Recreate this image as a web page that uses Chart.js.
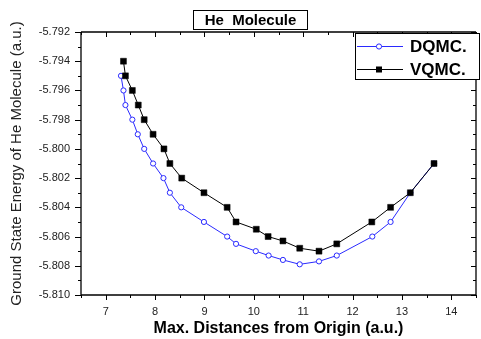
<!DOCTYPE html>
<html>
<head>
<meta charset="utf-8">
<script src="https://cdn.jsdelivr.net/npm/chart.js@4/dist/chart.umd.min.js"></script>
<style>
  html, body { margin: 0; padding: 0; background: #ffffff; }
  canvas { display: block; }
</style>
</head>
<body>
<canvas id="c" width="481" height="339"></canvas>
<script>
// ---- Data ----
const dqmcX = [7.31, 7.36, 7.40, 7.54, 7.65, 7.78, 7.96, 8.17, 8.30, 8.53, 8.99, 9.46, 9.64, 10.04, 10.30, 10.59, 10.93, 11.32, 11.68, 12.40, 12.77, 13.17, 13.65];
const dqmcY = [-5.795, -5.796, -5.797, -5.798, -5.799, -5.800, -5.801, -5.802, -5.803, -5.804, -5.805, -5.806, -5.8065, -5.807, -5.8073, -5.8076, -5.8079, -5.8077, -5.8073, -5.806, -5.805, -5.803, -5.801];
const vqmcX = [7.36, 7.40, 7.54, 7.66, 7.78, 7.96, 8.18, 8.30, 8.54, 8.99, 9.46, 9.64, 10.05, 10.29, 10.59, 10.93, 11.32, 11.68, 12.39, 12.77, 13.17, 13.65];
const vqmcY = [-5.794, -5.795, -5.796, -5.797, -5.798, -5.799, -5.800, -5.801, -5.802, -5.803, -5.804, -5.805, -5.8055, -5.806, -5.8063, -5.8068, -5.807, -5.8065, -5.805, -5.804, -5.803, -5.801];
const xTickValues = [7, 8, 9, 10, 11, 12, 13, 14];
const xMinorValues = [6.5, 7.5, 8.5, 9.5, 10.5, 11.5, 12.5, 13.5, 14.5];
const yTickValues = [-5.810, -5.808, -5.806, -5.804, -5.802, -5.800, -5.798, -5.796, -5.794, -5.792];
const yMinorValues = [-5.809, -5.807, -5.805, -5.803, -5.801, -5.799, -5.797, -5.795, -5.793];
const seriesNames = ['DQMC.', 'VQMC.'];
const chartTitle = 'He  Molecule';
const xTitle = 'Max. Distances from Origin (a.u.)';
const yTitle = 'Ground State Energy of He Molecule (a.u.)';

const BLUE = '#2a2aff';
const FONT = "'Liberation Sans', Arial, sans-serif";

const toPts = (xs, ys) => xs.map((x, i) => ({ x: x, y: ys[i] }));

const framePlugin = {
  id: 'frame',
  afterDraw(chart) {
    const { ctx, chartArea: a, scales } = chart;
    const xs = scales.x, ys = scales.y;
    ctx.save();
    ctx.strokeStyle = '#000';
    ctx.lineWidth = 1.3;
    ctx.beginPath();
    ctx.moveTo(a.left, a.top); ctx.lineTo(a.right, a.top);
    ctx.moveTo(a.left, a.bottom); ctx.lineTo(a.right, a.bottom);
    ctx.moveTo(a.left, a.top); ctx.lineTo(a.left, a.bottom);
    ctx.moveTo(a.right, a.top); ctx.lineTo(a.right, a.bottom);
    ctx.stroke();
    ctx.lineWidth = 1;
    ctx.beginPath();
    xTickValues.forEach(v => {
      const px = Math.round(xs.getPixelForValue(v)) + 0.5;
      ctx.moveTo(px, a.bottom); ctx.lineTo(px, a.bottom + 5);
      ctx.moveTo(px, a.top); ctx.lineTo(px, a.top + 5);
    });
    xMinorValues.forEach(v => {
      const px = Math.round(xs.getPixelForValue(v)) + 0.5;
      ctx.moveTo(px, a.bottom); ctx.lineTo(px, a.bottom + 3);
      ctx.moveTo(px, a.top); ctx.lineTo(px, a.top + 3);
    });
    yTickValues.forEach(v => {
      const py = Math.round(ys.getPixelForValue(v)) + 0.5;
      ctx.moveTo(a.left, py); ctx.lineTo(a.left - 6, py);
      ctx.moveTo(a.right, py); ctx.lineTo(a.right - 5, py);
    });
    yMinorValues.forEach(v => {
      const py = Math.round(ys.getPixelForValue(v)) + 0.5;
      ctx.moveTo(a.left, py); ctx.lineTo(a.left - 3, py);
      ctx.moveTo(a.right, py); ctx.lineTo(a.right - 3, py);
    });
    ctx.stroke();

    // Title box
    ctx.fillStyle = '#fff';
    ctx.fillRect(193.5, 10.5, 114, 19);
    ctx.strokeRect(193.5, 10.5, 114, 19);
    ctx.fillStyle = '#000';
    ctx.font = "bold 15px " + FONT;
    ctx.textAlign = 'center';
    ctx.textBaseline = 'middle';
    ctx.fillText(chartTitle, 250.5, 20.5);

    // Legend box
    const lx = 355.5, ly = 33.5, lw = 124, lh = 46;
    ctx.fillStyle = '#fff';
    ctx.fillRect(lx, ly, lw, lh);
    ctx.strokeStyle = '#000';
    ctx.lineWidth = 1;
    ctx.strokeRect(lx, ly, lw, lh);
    const rows = [
      { y: 46, color: BLUE, style: 'circle', name: seriesNames[0] },
      { y: 69, color: '#000', style: 'rect', name: seriesNames[1] }
    ];
    rows.forEach(r => {
      ctx.strokeStyle = r.color;
      ctx.lineWidth = 1;
      ctx.beginPath();
      ctx.moveTo(357, r.y + 0.5); ctx.lineTo(403, r.y + 0.5);
      ctx.stroke();
      if (r.style === 'circle') {
        ctx.fillStyle = '#fff';
        ctx.beginPath();
        ctx.arc(379, r.y + 0.5, 2.6, 0, Math.PI * 2);
        ctx.fill();
        ctx.stroke();
      } else {
        ctx.fillStyle = '#000';
        ctx.fillRect(376, r.y - 2.5, 6, 6);
      }
      ctx.fillStyle = '#000';
      ctx.font = "bold 17px " + FONT;
      ctx.textAlign = 'left';
      ctx.textBaseline = 'middle';
      ctx.fillText(r.name, 410, r.y + 1);
    });
    ctx.restore();
  }
};

new Chart(document.getElementById('c'), {
  type: 'scatter',
  data: {
    datasets: [
      {
        label: seriesNames[0],
        data: toPts(dqmcX, dqmcY),
        showLine: true,
        borderColor: BLUE,
        borderWidth: 1,
        pointStyle: 'circle',
        pointRadius: 2.6,
        pointBorderWidth: 1,
        pointBackgroundColor: '#fff',
        pointBorderColor: BLUE,
        order: 1
      },
      {
        label: seriesNames[1],
        data: toPts(vqmcX, vqmcY),
        showLine: true,
        borderColor: '#000',
        borderWidth: 1,
        pointStyle: 'rect',
        pointRadius: 4.2,
        pointBorderWidth: 0.5,
        pointBackgroundColor: '#000',
        pointBorderColor: '#000',
        order: 0
      }
    ]
  },
  options: {
    responsive: false,
    animation: false,
    layout: { padding: { top: 32, left: 0, right: 0, bottom: 0 } },
    plugins: {
      legend: { display: false },
      title: { display: false },
      tooltip: { enabled: false }
    },
    scales: {
      x: {
        type: 'linear',
        min: 6.5,
        max: 14.5,
        grid: { display: false, drawTicks: false },
        border: { display: false },
        afterBuildTicks: s => { s.ticks = xTickValues.map(v => ({ value: v })); },
        afterFit: s => { s.height = 44; },
        ticks: {
          padding: 10,
          color: '#222',
          font: { family: FONT, size: 11 },
          maxRotation: 0,
          autoSkip: false,
          callback: v => String(v)
        },
        title: {
          display: true,
          text: xTitle,
          color: '#000',
          font: { family: FONT, size: 16, weight: 'bold' },
          padding: { top: 0, bottom: 1 }
        }
      },
      y: {
        type: 'linear',
        min: -5.810,
        max: -5.792,
        grid: { display: false, drawTicks: false },
        border: { display: false },
        afterBuildTicks: s => { s.ticks = yTickValues.map(v => ({ value: v })); },
        afterFit: s => { s.width = 81; },
        ticks: {
          padding: 11,
          color: '#222',
          font: { family: FONT, size: 11 },
          autoSkip: false,
          callback: v => v.toFixed(3)
        },
        title: {
          display: true,
          text: yTitle,
          color: '#222',
          font: { family: FONT, size: 15 },
          padding: { top: 8, bottom: 0 }
        }
      }
    }
  },
  plugins: [framePlugin]
});
</script>
</body>
</html>
